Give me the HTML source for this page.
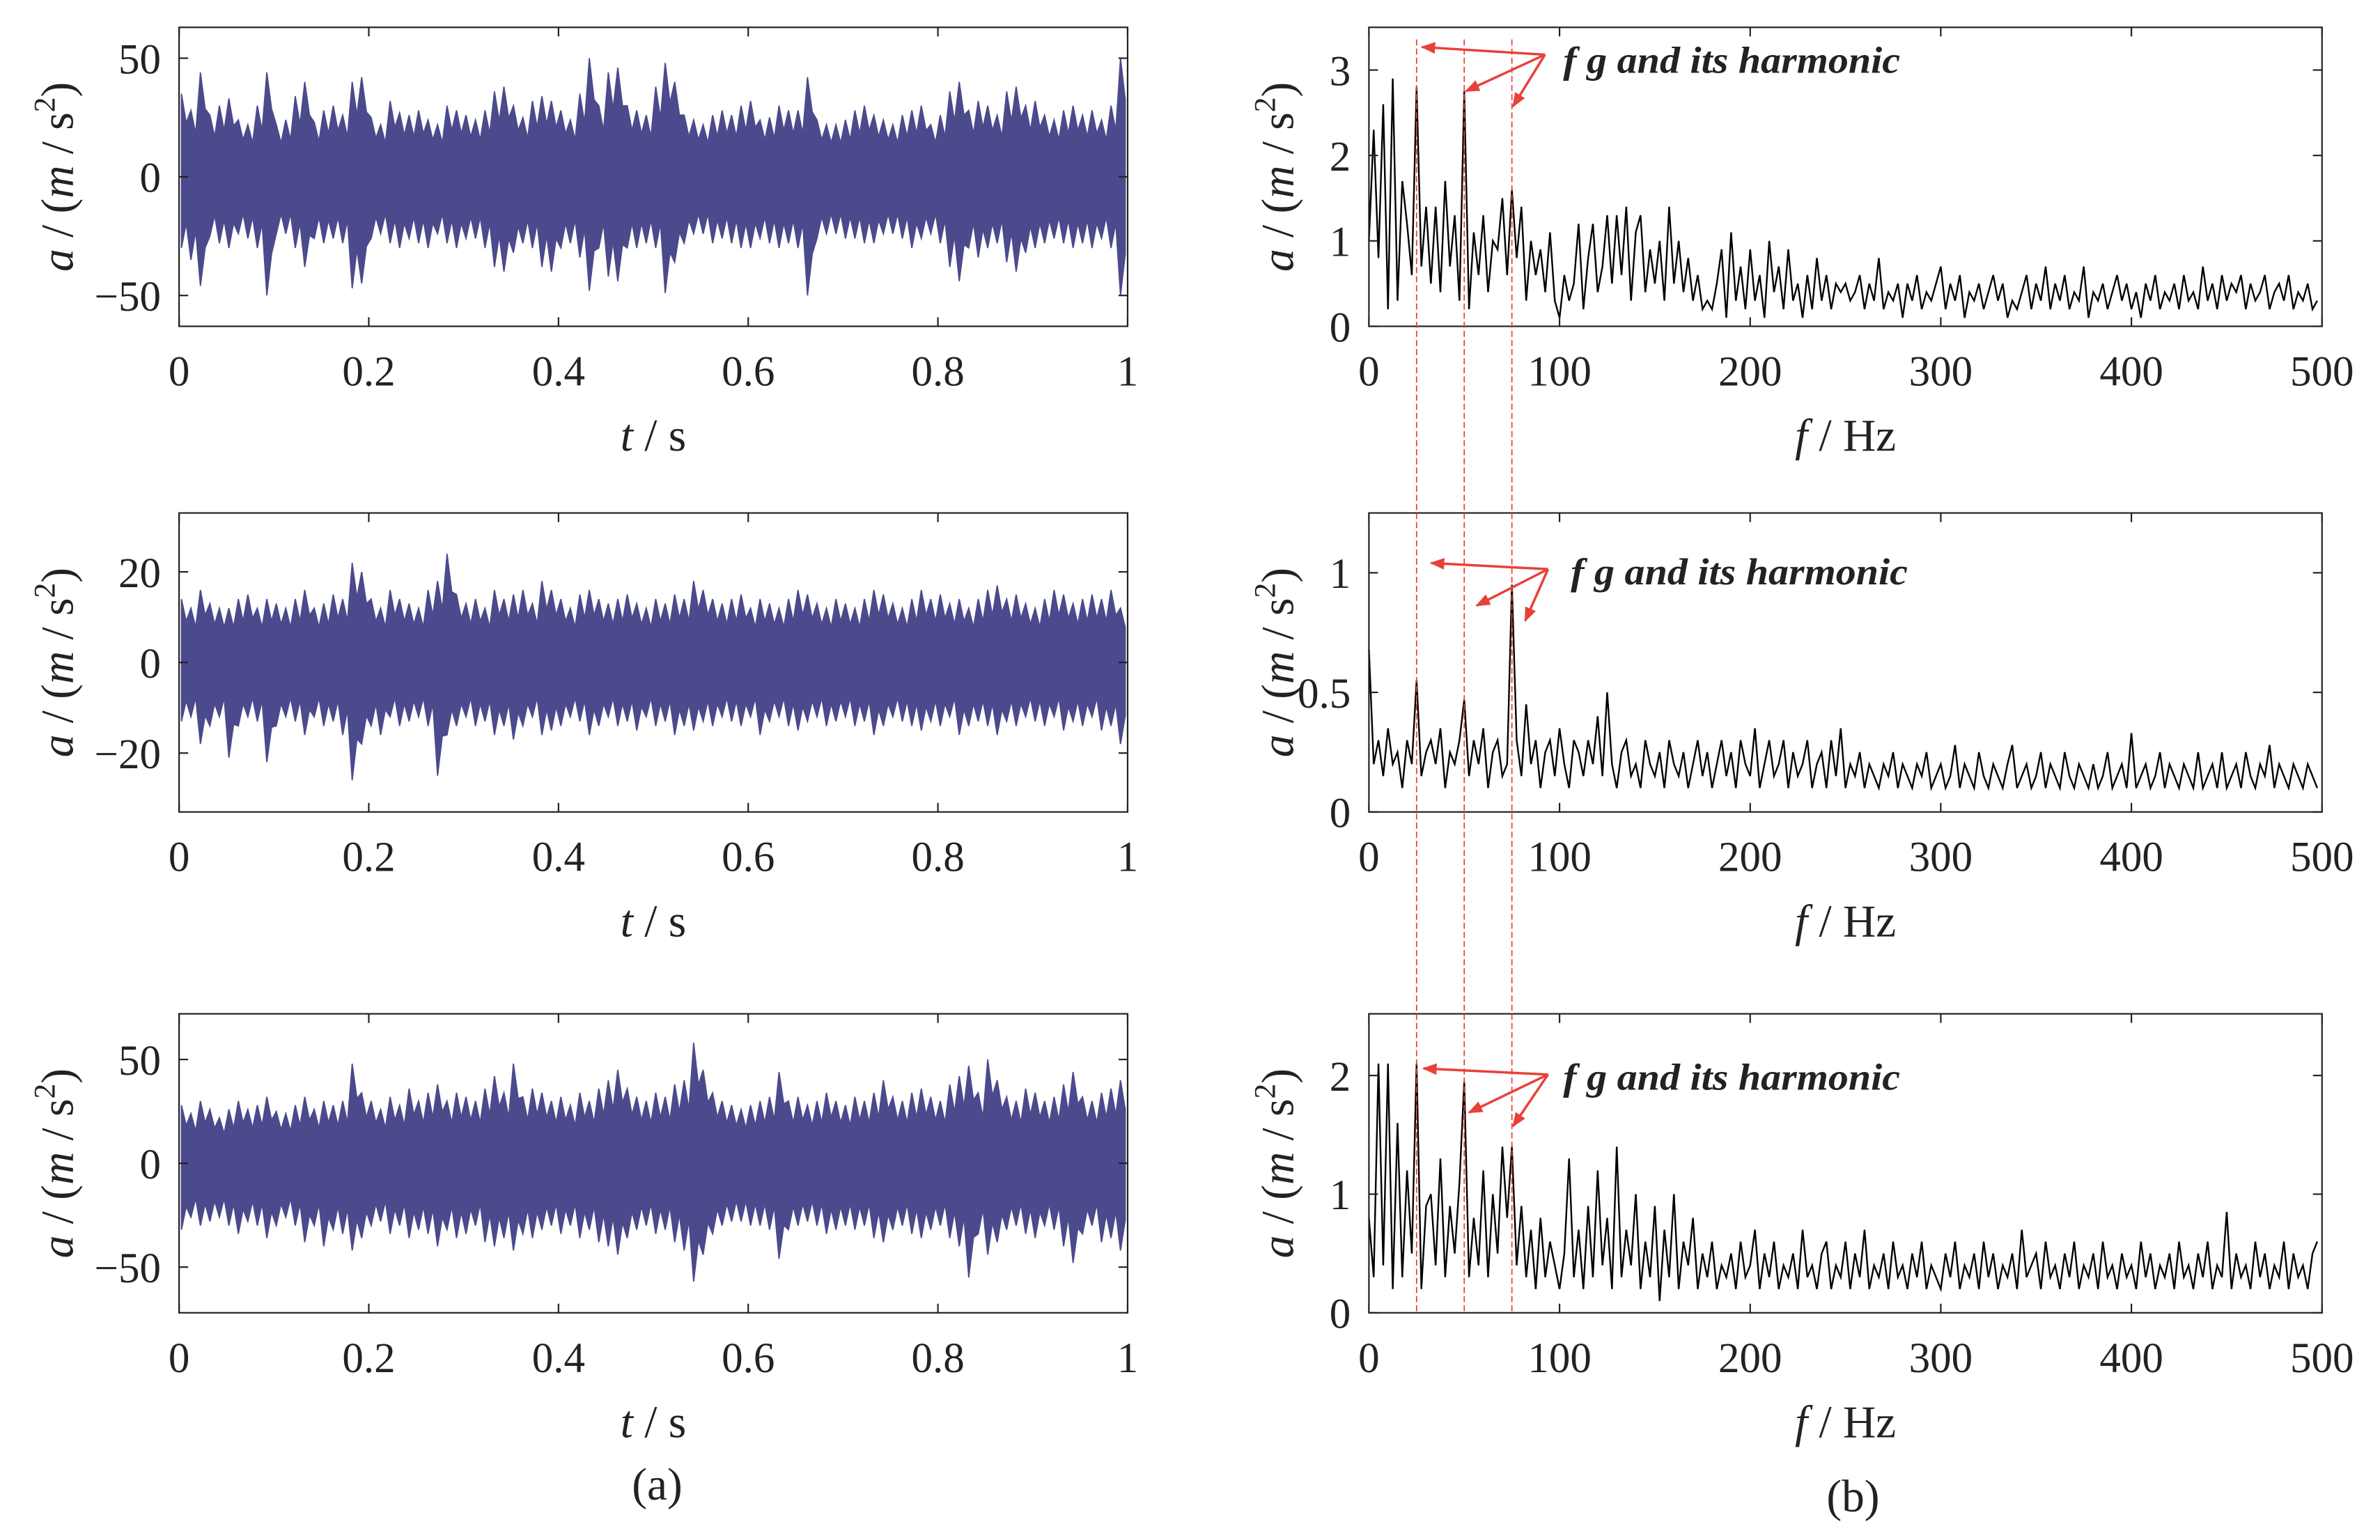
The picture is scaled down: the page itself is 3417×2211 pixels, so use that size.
<!DOCTYPE html>
<html><head><meta charset="utf-8"><style>
html,body{margin:0;padding:0;background:#fff}
svg{display:block}
svg text{font-family:"Liberation Serif","Times New Roman",serif;fill:#222}
</style></head><body>
<svg id="fig" width="3417" height="2211" viewBox="0 0 1568.2 1014.7" font-family="Liberation Serif, serif" xmlns="http://www.w3.org/2000/svg"></svg>
<script>
// ---- time-domain data (upper / lower envelope per 0.01 s bin) ----
const tlUpper=[35,28,44,26,30,33,24,22,30,44,22,24,34,40,23,28,30,26,40,42,25,22,32,27,26,28,24,22,30,28,26,24,28,36,38,30,25,32,34,32,28,24,35,50,30,44,46,30,28,26,38,48,40,26,24,22,26,28,26,30,32,24,25,30,28,28,42,24,22,22,24,28,30,26,24,22,26,28,30,22,26,36,40,28,32,30,26,36,38,30,32,26,24,28,30,26,28,24,30,50];
const tlLower=[-30,-35,-46,-25,-28,-30,-24,-26,-30,-50,-24,-24,-30,-38,-26,-28,-26,-28,-47,-45,-26,-24,-28,-30,-26,-28,-30,-24,-28,-30,-26,-26,-30,-38,-40,-32,-28,-30,-38,-40,-30,-28,-34,-48,-30,-42,-44,-30,-30,-28,-30,-49,-36,-28,-24,-24,-28,-26,-28,-30,-30,-26,-28,-30,-28,-30,-50,-26,-24,-24,-26,-26,-28,-28,-24,-24,-26,-30,-26,-24,-28,-38,-44,-30,-34,-30,-28,-36,-40,-32,-30,-28,-26,-28,-30,-28,-30,-26,-30,-50];
const mlUpper=[14,12,16,13,12,12,14,15,12,14,13,12,14,16,12,13,15,14,22,20,14,12,16,14,13,12,16,18,24,15,13,14,12,16,14,15,16,13,18,16,14,12,15,16,14,13,14,15,13,12,14,13,15,14,18,16,14,13,14,15,12,14,13,12,14,16,15,13,12,14,13,12,14,16,15,13,12,14,16,14,15,13,14,12,14,16,17,14,15,13,12,14,16,15,13,14,15,14,16,12];
const mlLower=[-13,-12,-18,-14,-12,-21,-14,-12,-13,-22,-14,-12,-13,-16,-12,-14,-13,-16,-26,-18,-14,-16,-12,-14,-13,-12,-14,-25,-16,-14,-12,-14,-13,-16,-14,-17,-14,-12,-16,-15,-14,-12,-13,-16,-14,-12,-14,-13,-15,-12,-14,-13,-16,-14,-15,-13,-14,-12,-13,-14,-12,-16,-13,-12,-14,-15,-13,-12,-14,-13,-12,-14,-13,-16,-14,-12,-13,-14,-15,-13,-14,-12,-16,-14,-13,-14,-16,-13,-14,-12,-13,-14,-12,-15,-13,-14,-12,-15,-14,-18];
const blUpper=[28,24,30,26,22,26,30,26,28,32,25,24,28,32,26,30,28,30,48,34,30,26,32,28,36,30,34,38,30,34,32,30,36,42,34,48,32,36,34,30,32,28,34,30,36,40,45,36,32,30,34,32,38,40,58,45,34,30,28,26,28,30,32,44,30,32,28,30,34,30,28,32,30,34,40,32,30,34,36,32,30,38,42,47,34,50,40,32,30,36,34,30,32,38,44,32,30,34,36,40];
const blLower=[-32,-26,-30,-28,-26,-30,-34,-28,-30,-36,-30,-26,-30,-38,-30,-40,-32,-34,-42,-36,-30,-28,-34,-30,-36,-32,-34,-40,-32,-36,-34,-30,-38,-40,-36,-42,-34,-36,-32,-30,-34,-30,-36,-32,-38,-40,-44,-36,-32,-30,-34,-32,-38,-42,-57,-44,-34,-30,-28,-28,-30,-30,-32,-46,-32,-30,-28,-30,-34,-32,-30,-32,-30,-36,-38,-32,-30,-34,-36,-32,-30,-36,-40,-55,-34,-44,-38,-32,-30,-34,-36,-30,-32,-40,-48,-34,-30,-38,-36,-42];
// ---- spectra (2.5 Hz spacing) ----
const trSpec=[1.0,2.3,0.8,2.6,0.2,2.9,0.3,1.7,1.2,0.6,2.8,0.7,1.4,0.5,1.4,0.4,1.7,0.7,1.3,0.3,2.75,0.2,1.1,0.6,1.3,0.4,1.0,0.9,1.5,0.6,1.6,0.8,1.4,0.3,1.0,0.6,0.9,0.4,1.1,0.3,0.1,0.6,0.3,0.5,1.2,0.2,0.8,1.2,0.4,0.7,1.3,0.5,1.3,0.6,1.4,0.3,1.1,1.3,0.4,0.9,0.5,1.0,0.3,1.4,0.5,1.0,0.4,0.8,0.3,0.6,0.2,0.3,0.2,0.5,0.9,0.1,1.1,0.3,0.7,0.2,0.9,0.3,0.6,0.1,1.0,0.4,0.7,0.2,0.9,0.3,0.5,0.1,0.6,0.2,0.8,0.3,0.6,0.2,0.5,0.4,0.5,0.3,0.4,0.6,0.2,0.5,0.3,0.8,0.2,0.4,0.3,0.5,0.1,0.5,0.3,0.6,0.2,0.4,0.3,0.5,0.7,0.2,0.5,0.3,0.6,0.1,0.4,0.3,0.5,0.2,0.4,0.6,0.3,0.5,0.1,0.3,0.2,0.4,0.6,0.2,0.5,0.3,0.7,0.2,0.5,0.3,0.6,0.2,0.4,0.3,0.7,0.1,0.4,0.3,0.5,0.2,0.4,0.6,0.3,0.5,0.2,0.4,0.1,0.5,0.3,0.6,0.2,0.4,0.3,0.5,0.2,0.6,0.3,0.4,0.2,0.7,0.3,0.5,0.2,0.6,0.3,0.5,0.4,0.6,0.2,0.5,0.3,0.4,0.6,0.2,0.4,0.5,0.3,0.6,0.2,0.4,0.3,0.5,0.2,0.3];
const mrSpec=[0.68,0.2,0.3,0.15,0.35,0.2,0.25,0.1,0.3,0.2,0.55,0.15,0.25,0.3,0.2,0.35,0.1,0.25,0.2,0.3,0.47,0.15,0.3,0.2,0.35,0.1,0.25,0.3,0.15,0.2,0.95,0.3,0.15,0.45,0.2,0.3,0.1,0.25,0.3,0.15,0.35,0.2,0.1,0.3,0.25,0.15,0.3,0.2,0.4,0.15,0.5,0.2,0.1,0.25,0.3,0.15,0.2,0.1,0.3,0.2,0.15,0.25,0.1,0.3,0.2,0.15,0.25,0.1,0.2,0.3,0.15,0.25,0.1,0.2,0.3,0.15,0.25,0.1,0.3,0.2,0.15,0.35,0.1,0.2,0.3,0.15,0.2,0.3,0.1,0.25,0.15,0.2,0.3,0.1,0.2,0.25,0.1,0.3,0.15,0.35,0.1,0.2,0.15,0.25,0.1,0.2,0.15,0.1,0.2,0.15,0.25,0.1,0.2,0.15,0.1,0.2,0.15,0.25,0.1,0.15,0.2,0.1,0.15,0.28,0.1,0.2,0.15,0.1,0.25,0.15,0.1,0.2,0.15,0.1,0.2,0.28,0.1,0.15,0.2,0.1,0.15,0.25,0.1,0.2,0.15,0.1,0.25,0.15,0.1,0.2,0.15,0.1,0.2,0.1,0.15,0.25,0.1,0.15,0.2,0.1,0.33,0.1,0.15,0.2,0.1,0.15,0.25,0.1,0.2,0.15,0.1,0.2,0.15,0.1,0.25,0.1,0.15,0.2,0.1,0.25,0.1,0.15,0.2,0.1,0.25,0.15,0.1,0.2,0.15,0.28,0.1,0.2,0.15,0.1,0.2,0.15,0.1,0.2,0.15,0.1];
const brSpec=[0.8,0.3,2.1,0.4,2.1,0.2,1.6,0.3,1.2,0.5,2.1,0.2,0.9,1.0,0.4,1.3,0.3,0.9,0.5,1.1,1.95,0.3,0.8,0.4,1.2,0.3,1.0,0.5,1.4,0.8,1.4,0.4,0.9,0.3,0.7,0.2,0.8,0.3,0.6,0.4,0.2,0.5,1.3,0.3,0.7,0.2,0.9,0.3,1.2,0.4,0.8,0.2,1.4,0.3,0.7,0.4,1.0,0.2,0.6,0.3,0.9,0.1,0.7,0.3,1.0,0.2,0.6,0.4,0.8,0.2,0.5,0.3,0.6,0.2,0.4,0.3,0.5,0.2,0.6,0.3,0.4,0.7,0.2,0.5,0.3,0.6,0.2,0.4,0.3,0.5,0.2,0.7,0.3,0.4,0.2,0.5,0.6,0.2,0.4,0.3,0.6,0.2,0.5,0.3,0.7,0.2,0.4,0.3,0.5,0.2,0.6,0.3,0.4,0.2,0.5,0.3,0.6,0.2,0.4,0.3,0.2,0.5,0.3,0.6,0.2,0.4,0.3,0.5,0.2,0.6,0.3,0.5,0.2,0.4,0.3,0.5,0.2,0.7,0.3,0.4,0.5,0.2,0.6,0.3,0.4,0.2,0.5,0.3,0.6,0.2,0.4,0.3,0.5,0.2,0.6,0.3,0.4,0.2,0.5,0.3,0.4,0.2,0.6,0.3,0.5,0.2,0.4,0.3,0.5,0.2,0.6,0.3,0.4,0.2,0.5,0.3,0.6,0.2,0.4,0.3,0.85,0.2,0.5,0.3,0.4,0.2,0.6,0.3,0.5,0.2,0.4,0.3,0.6,0.2,0.5,0.3,0.4,0.2,0.5,0.6];
const timeTicks=[0,0.2,0.4,0.6,0.8,1];
const timeTickLabels=["0","0.2","0.4","0.6","0.8","1"];
const freqTicks=[0,100,200,300,400,500];
const harmonics=[25,50,75];

const NS="http://www.w3.org/2000/svg";
const svg=document.getElementById('fig');
function mk(tag,attrs,parent){const e=document.createElementNS(NS,tag);for(const k in attrs)e.setAttribute(k,attrs[k]);(parent||svg).appendChild(e);return e;}
function fmt(v){return v<0?"\u2212"+(-v):String(v);}
const SERIF="Liberation Serif, serif";

function panel(name,x0,x1,y0,y1,xmin,xmax,ymin,ymax,xt,xtl,yt,xlabelKind){
  const g=mk('g',{'font-family':SERIF});
  
  
  const sx=v=>x0+(v-xmin)/(xmax-xmin)*(x1-x0);
  const sy=v=>y1-(v-ymin)/(ymax-ymin)*(y1-y0);
  return {g,sx,sy,x0,x1,y0,y1,xt,xtl,yt,xlabelKind};
}
function frame(p){
  const {g,sx,sy,x0,x1,y0,y1}=p;
  const fr=mk('rect',{x:x0,y:y0,width:x1-x0,height:y1-y0,fill:'none',stroke:'#222','stroke-width':1},g);
  
  
  p.xt.forEach((v,i)=>{
    const x=sx(v);
    mk('line',{x1:x,y1:y1,x2:x,y2:y1-6,stroke:'#222','stroke-width':1},g);
    mk('line',{x1:x,y1:y0,x2:x,y2:y0+6,stroke:'#222','stroke-width':1},g);
    const t=mk('text',{x:x,y:y1+39,'font-size':28,'text-anchor':'middle','font-family':SERIF},g);
    t.textContent=p.xtl[i];
    
    
  });
  p.yt.forEach(v=>{
    const y=sy(v);
    mk('line',{x1:x0,y1:y,x2:x0+6,y2:y,stroke:'#222','stroke-width':1},g);
    mk('line',{x1:x1,y1:y,x2:x1-6,y2:y,stroke:'#222','stroke-width':1},g);
    const t=mk('text',{x:x0-12,y:y+10,'font-size':28,'text-anchor':'end','font-family':SERIF},g);
    t.textContent=fmt(v);
    
    
  });
  const xl=mk('text',{x:(x0+x1)/2,y:y1+82,'font-size':30,'text-anchor':'middle','font-family':SERIF},g);
  
  
  if(p.xlabelKind==='t'){xl.innerHTML='<tspan font-style="italic">t</tspan> / s';}
  else{xl.innerHTML='<tspan font-style="italic">f</tspan> / Hz';}
  const cx=x0-(p.xlabelKind==='t'?70:50), cy=(y0+y1)/2;
  const yl=mk('text',{x:0,y:0,'font-size':30,'text-anchor':'middle','font-family':SERIF,transform:`translate(${cx},${cy}) rotate(-90)`},g);
  
  
  yl.innerHTML='<tspan font-style="italic">a</tspan> / (<tspan font-style="italic">m</tspan> / s<tspan dy="-12" font-size="20">2</tspan><tspan dy="12">)</tspan>';
}
function timeSeries(p,up,lo,name){
  const n=up.length;
  let pts=[];
  for(let i=0;i<n;i++){pts.push(p.sx((i+0.25)/n).toFixed(2)+','+p.sy(up[i]).toFixed(2));pts.push(p.sx((i+0.75)/n).toFixed(2)+','+p.sy(up[i]*0.65).toFixed(2));}
  for(let i=n-1;i>=0;i--){pts.push(p.sx((i+0.75)/n).toFixed(2)+','+p.sy(lo[i]*0.65).toFixed(2));pts.push(p.sx((i+0.25)/n).toFixed(2)+','+p.sy(lo[i]).toFixed(2));}
  const pg=mk('polygon',{points:pts.join(' '),fill:'#4b4a8c',stroke:'#4b4a8c','stroke-width':0.8,'stroke-linejoin':'miter'},p.g);
  
  
}
function spectrum(p,vals,name){
  const pts=vals.map((v,i)=>p.sx(i*2.5).toFixed(2)+','+p.sy(v).toFixed(2));
  const pl=mk('polyline',{points:pts.join(' '),fill:'none',stroke:'#000','stroke-width':1.1},p.g);
  
  
}

const L0=118,L1=743,R0=902,R1=1530;
const rows=[[18,215],[338,535],[668,865]];
const tl=panel('time-panel-1',L0,L1,rows[0][0],rows[0][1],0,1,-63,63,timeTicks,timeTickLabels,[-50,0,50],'t');
const ml=panel('time-panel-2',L0,L1,rows[1][0],rows[1][1],0,1,-33,33,timeTicks,timeTickLabels,[-20,0,20],'t');
const bl=panel('time-panel-3',L0,L1,rows[2][0],rows[2][1],0,1,-72,72,timeTicks,timeTickLabels,[-50,0,50],'t');
const fl=freqTicks.map(String);
const tr=panel('spectrum-panel-1',R0,R1,rows[0][0],rows[0][1],0,500,0,3.5,freqTicks,fl,[0,1,2,3],'f');
const mr=panel('spectrum-panel-2',R0,R1,rows[1][0],rows[1][1],0,500,0,1.25,freqTicks,fl,[0,0.5,1],'f');
const br=panel('spectrum-panel-3',R0,R1,rows[2][0],rows[2][1],0,500,0,2.52,freqTicks,fl,[0,1,2],'f');
timeSeries(tl,tlUpper,tlLower,'time-signal-1');
timeSeries(ml,mlUpper,mlLower,'time-signal-2');
timeSeries(bl,blUpper,blLower,'time-signal-3');
spectrum(tr,trSpec,'spectrum-1');
spectrum(mr,mrSpec,'spectrum-2');
spectrum(br,brSpec,'spectrum-3');
[tl,ml,bl,tr,mr,br].forEach(frame);

harmonics.forEach(h=>{
  const x=tr.sx(h);
  const l=mk('line',{x1:x,y1:26,x2:x,y2:865,stroke:'#e8413a','stroke-width':0.8,'stroke-dasharray':'4,2'});
  
  
});
const defs=mk('defs',{});
const mkr=mk('marker',{id:'ah',viewBox:'0 0 10 10',refX:9,refY:5,markerWidth:6,markerHeight:6,orient:'auto'},defs);
mk('path',{d:'M0,1 L10,5 L0,9 z',fill:'#e8413a'},mkr);
const ann=[[1018,36,1030,48,[[937,31],[966,60],[997,70]]],[1020,375,1035,385,[[943,371],[973,399],[1005,409]]],[1020,708,1030,718,[[938,704],[968,733],[997,742]]]];
ann.forEach((a,k)=>{
  const g=mk('g',{'font-family':SERIF});
  
  
  a[4].forEach(t=>mk('line',{x1:a[0],y1:a[1],x2:t[0],y2:t[1],stroke:'#e8413a','stroke-width':1.6,'marker-end':'url(#ah)'},g));
  const tx=mk('text',{x:a[2],y:a[3],'font-size':25,'font-style':'italic','font-weight':'bold','font-family':SERIF,textLength:222,lengthAdjust:'spacingAndGlyphs'},g);
  tx.textContent='f g  and its harmonic';
  tx.setAttribute('xml:space','preserve');
});
const ca=mk('text',{x:433,y:988,'font-size':30,'text-anchor':'middle','font-family':SERIF});ca.textContent='(a)';


const cb=mk('text',{x:1221,y:996,'font-size':30,'text-anchor':'middle','font-family':SERIF});cb.textContent='(b)';


</script>
</body></html>
